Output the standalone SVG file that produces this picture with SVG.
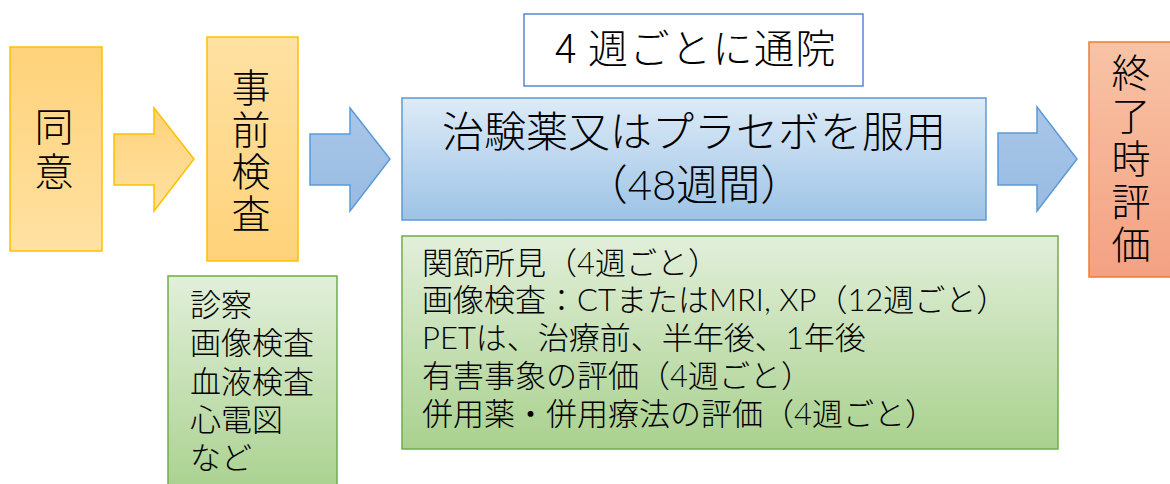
<svg xmlns="http://www.w3.org/2000/svg" width="1170" height="484" viewBox="0 0 1170 484">
<defs>
<linearGradient id="orgUp" x1="0" y1="0" x2="0" y2="1"><stop offset="0" stop-color="#FED27A"/><stop offset="1" stop-color="#FFE1A2"/></linearGradient>
<linearGradient id="orgDown" x1="0" y1="0" x2="0" y2="1"><stop offset="0" stop-color="#FFE1A2"/><stop offset="1" stop-color="#FED27A"/></linearGradient>
<linearGradient id="blue" x1="0" y1="0" x2="0" y2="1"><stop offset="0" stop-color="#DDEBF7"/><stop offset="1" stop-color="#9DC3E6"/></linearGradient>
<linearGradient id="blueArr" x1="0" y1="0" x2="0" y2="1"><stop offset="0" stop-color="#A9C6E8"/><stop offset="1" stop-color="#98BBE2"/></linearGradient>
<linearGradient id="green" x1="0" y1="0" x2="0" y2="1"><stop offset="0" stop-color="#E2EFDA"/><stop offset="1" stop-color="#A9D18E"/></linearGradient>
<linearGradient id="salmon" x1="0" y1="0" x2="0" y2="1"><stop offset="0" stop-color="#F8C3A5"/><stop offset="1" stop-color="#F4A183"/></linearGradient>
</defs>
<style>
text{font-family:"Noto Sans CJK JP","Noto Sans",sans-serif;font-weight:300;fill:#000;}
.org{stroke:#FFC000;stroke-width:1.5;}
.blu{stroke:#5B9BD5;stroke-width:1.5;}
.grn{fill:url(#green);stroke:#70AD47;stroke-width:1.5;}
.vert{font-size:39px;writing-mode:vertical-rl;text-orientation:upright;text-anchor:middle;}
.mid{font-size:31px;font-family:Lato,"Noto Sans CJK JP",sans-serif;}
.lat{font-family:Lato,"Noto Sans CJK JP",sans-serif;}
.c{text-anchor:middle;}
</style>

<g id="consent">
<rect class="org" x="10" y="47" width="92" height="204" fill="url(#orgUp)"/>
<text class="vert" x="54" y="152" letter-spacing="6">同意</text>
</g>

<g id="pretest">
<rect class="org" x="207" y="37" width="91" height="224" fill="url(#orgDown)"/>
<text class="vert" x="251" y="152" letter-spacing="3">事前検査</text>
</g>

<g id="pretest-items">
<rect class="grn" x="168" y="276" width="169" height="220"/>
<text class="mid" x="190" y="316">診察<tspan x="190" dy="38">画像検査</tspan><tspan x="190" dy="39">血液検査</tspan><tspan x="190" dy="38">心電図</tspan><tspan x="190" dy="38">など</tspan></text>
</g>

<g id="visit">
<rect x="524" y="14" width="339" height="72" fill="#FFFFFF" stroke="#5B86D0" stroke-width="1.5"/>
<text class="c" x="696" y="63" font-size="40" letter-spacing="1.5">4 週ごとに通院</text>
</g>

<g id="treatment">
<rect class="blu" x="402" y="98" width="584" height="122" fill="url(#blue)"/>
<text class="c lat" x="694" y="147" font-size="42">治験薬又はプラセボを服用<tspan x="694" dy="53">（48週間）</tspan></text>
</g>

<g id="treatment-items">
<rect class="grn" x="402" y="236" width="656" height="213"/>
<text class="mid" x="422" y="274">関節所見（4週ごと）<tspan x="422" dy="37">画像検査：CTまたはMRI, XP（12週ごと）</tspan><tspan x="422" dy="38">PETは、治療前、半年後、1年後</tspan><tspan x="422" dy="38">有害事象の評価（4週ごと）</tspan><tspan x="422" dy="38">併用薬・併用療法の評価（4週ごと）</tspan></text>
</g>

<g id="final">
<rect x="1089" y="42" width="83" height="235" fill="url(#salmon)" stroke="#ED7D31" stroke-width="1.5"/>
<text class="vert" x="1131" y="160" letter-spacing="4">終了時評価</text>
</g>

<g id="connectors">
<polygon class="org" fill="url(#orgUp)" points="114,134 154,134 154,108 194,159 154,211 154,185 114,185"/>
<polygon class="blu" fill="url(#blueArr)" points="310,134 350,134 350,108 390,159 350,211 350,185 310,185"/>
<polygon class="blu" fill="url(#blueArr)" points="998,133 1037,133 1037,107 1077,159 1037,211 1037,185 998,185"/>
</g>
</svg>
